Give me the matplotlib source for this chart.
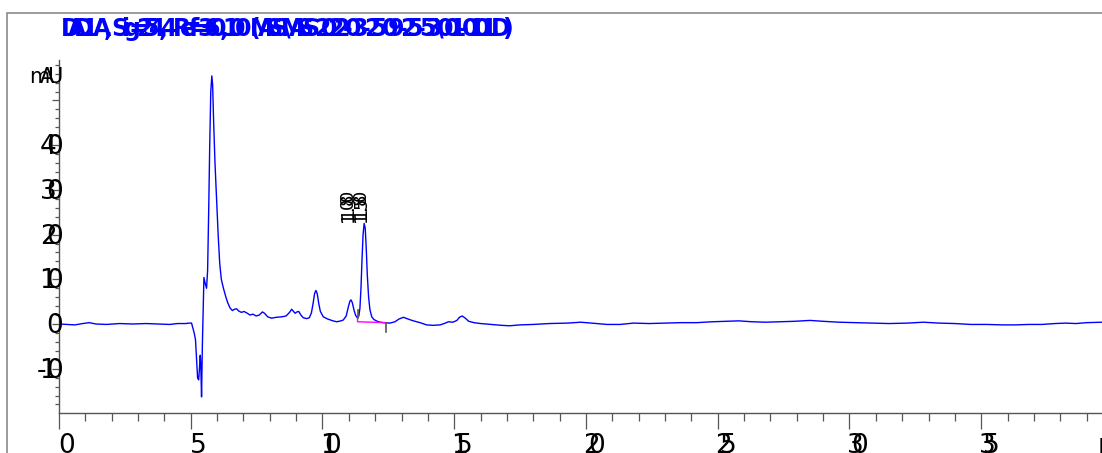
import matplotlib
matplotlib.use("Agg")
import matplotlib.pyplot as plt
from matplotlib.ticker import MultipleLocator, NullFormatter
from matplotlib.patches import Rectangle

# ---- chromatogram signal (time in min, absorbance in mAU) ----
time_min = [
    0.0, 0.3, 0.6, 0.9, 1.15, 1.4, 1.8, 2.3, 2.8, 3.3, 3.8, 4.2, 4.5, 4.8, 4.95,
    5.03, 5.13, 5.18, 5.26, 5.30, 5.33, 5.36, 5.38, 5.41, 5.44, 5.48, 5.50, 5.55,
    5.60, 5.64, 5.68, 5.72, 5.76, 5.80, 5.83, 5.87, 5.92, 5.98, 6.04, 6.10, 6.16,
    6.24, 6.32, 6.40, 6.49, 6.58, 6.66, 6.74, 6.82, 6.92, 7.02, 7.12, 7.25, 7.36,
    7.48, 7.60, 7.72, 7.80, 7.92, 8.07, 8.25, 8.45, 8.62, 8.75, 8.83, 8.90, 8.96,
    9.03, 9.10, 9.18, 9.27, 9.40, 9.50, 9.58, 9.64, 9.70, 9.75, 9.80, 9.86, 9.92,
    10.03, 10.2, 10.4, 10.54, 10.7, 10.79, 10.90, 10.98, 11.04, 11.08, 11.13,
    11.20, 11.26, 11.32, 11.38, 11.42, 11.46, 11.50, 11.54, 11.58, 11.62, 11.66,
    11.70, 11.75, 11.80, 11.87, 11.95, 12.12, 12.3, 12.56, 12.75, 12.9, 13.07,
    13.25, 13.45, 13.7, 13.95, 14.2, 14.46, 14.62, 14.78, 14.95, 15.1, 15.2, 15.3,
    15.42, 15.55, 15.75, 16.0, 16.4, 16.8, 17.1, 17.5, 18.0, 18.6, 19.3, 19.8,
    20.2, 20.8, 21.3, 21.8, 22.4, 23.0, 23.6, 24.2, 24.8, 25.3, 25.8, 26.3, 26.8,
    27.3, 27.9, 28.5, 29.0, 29.6, 30.2, 30.8, 31.5, 32.2, 32.8, 33.4, 34.0, 34.6,
    35.2, 35.8, 36.3, 36.8, 37.3, 37.8, 38.2, 38.6, 39.0, 39.6,
]
signal_mau = [
    0.0, -0.1, -0.2, 0.1, 0.3, 0.0, -0.1, 0.1, 0.0, 0.1, 0.0, -0.1, 0.1, 0.1, 0.2,
    0.2, -2.0, -3.5, -12.1, -12.5, -10.0, -7.0, -9.0, -16.3, -5.0, 6.0, 10.4, 9.0,
    8.0, 12.0, 25.0, 40.0, 52.0, 55.5, 53.5, 45.0, 36.0, 28.0, 20.0, 13.5, 10.0,
    8.0, 6.3, 4.8, 3.6, 3.0, 3.3, 3.4, 2.9, 2.6, 2.8, 2.5, 2.0, 2.2,
    1.8, 2.0, 2.7, 2.4, 1.6, 1.3, 1.5, 1.6, 1.8, 2.6, 3.3, 2.8, 2.4,
    2.7, 2.8, 2.0, 1.4, 1.2, 1.4, 2.5, 4.5, 6.8, 7.5, 6.8, 4.5, 2.8,
    1.6, 1.1, 0.7, 0.5, 0.7, 0.9, 1.8, 3.8, 5.1, 5.4, 4.8,
    3.0, 1.9, 1.4, 1.8, 3.5, 8.0, 14.5, 20.0, 22.5, 21.5, 17.0,
    11.0, 6.0, 3.2, 1.6, 1.0, 0.5, 0.3, 0.2, 0.5, 1.1, 1.5,
    1.1, 0.7, 0.3, -0.2, -0.3, -0.2, 0.1, 0.5, 0.4, 0.8, 1.5, 1.8,
    1.3, 0.6, 0.3, 0.1, -0.1, -0.3, -0.4, -0.2, -0.1, 0.1, 0.2, 0.4,
    0.2, -0.1, -0.1, 0.2, 0.1, 0.2, 0.3, 0.3, 0.5, 0.6, 0.7, 0.5, 0.4,
    0.5, 0.6, 0.8, 0.6, 0.4, 0.3, 0.2, 0.1, 0.2, 0.4, 0.2, 0.1, -0.1,
    -0.1, -0.2, -0.2, -0.1, -0.1, 0.1, 0.2, 0.1, 0.3, 0.4,
]

# integrated peak: start / end of the drawn baseline
peak_start = (11.33, 0.5)
peak_end = (12.41, 0.3)
# retention times annotated above the peaks
peak_rt = [11.08, 11.58]

x_tick_values = [0, 5, 10, 15, 20, 25, 30, 35]
y_tick_values = [-10, 0, 10, 20, 30, 40]

title_text = "DAD1 A, Sig=254,4 Ref=360,100 (MASS\\MASS 2022-03-25 09-25-53\\001-0101.D)"
y_unit = "mAU"
x_unit = "min"

# ---- figure ----
W, H = 1102, 453
fig = plt.figure(figsize=(W / 100, H / 100), dpi=100)
fig.patch.set_facecolor("white")

# outer frame
fig.patches.append(Rectangle((7 / W, -0.1), 1.2, 1 - 13 / H + 0.1,
                             transform=fig.transFigure, fill=False,
                             edgecolor="#8a8a8a", linewidth=1.2))

px_per_min = 26.35
px_per_mau = 4.47
ymin, ymax = -19.8, 59.0
ax_left, ax_bottom = 59, 412.5
ax_w = 40 * px_per_min
ax_h = (ymax - ymin) * px_per_mau
ax = fig.add_axes([ax_left / W, 1 - ax_bottom / H, ax_w / W, ax_h / H])
ax.set_xlim(0, 40)
ax.set_ylim(ymin, ymax)
ax.patch.set_alpha(0)

axis_col = "#555555"
for side in ("top", "right"):
    ax.spines[side].set_visible(False)
for side in ("left", "bottom"):
    ax.spines[side].set_color(axis_col)
    ax.spines[side].set_linewidth(1.0)

ax.xaxis.set_major_locator(MultipleLocator(5))
ax.xaxis.set_minor_locator(MultipleLocator(1))
ax.yaxis.set_major_locator(MultipleLocator(10))
ax.yaxis.set_minor_locator(MultipleLocator(2))
ax.xaxis.set_major_formatter(NullFormatter())
ax.yaxis.set_major_formatter(NullFormatter())
ax.tick_params(axis="x", which="major", direction="out", length=11.5, width=0.9, color=axis_col)
ax.tick_params(axis="x", which="minor", direction="out", length=5.8, width=0.9, color=axis_col)
ax.tick_params(axis="y", which="major", direction="out", length=5.0, width=0.9, color=axis_col)
ax.tick_params(axis="y", which="minor", direction="out", length=2.6, width=0.9, color=axis_col)

# signal trace
ax.plot(time_min, signal_mau, color="#0000FF", linewidth=1.0, solid_joinstyle="round")

# integration baseline and peak delimiters
ax.plot([peak_start[0], peak_start[0], peak_end[0]],
        [peak_start[1] + 0.9, peak_start[1], peak_end[1]],
        color="#FF00FF", linewidth=1.0)
ax.plot([peak_start[0], peak_start[0]], [peak_start[1] + 0.9, peak_start[1] + 2.6],
        color="#555555", linewidth=1.2)
ax.plot([peak_end[0], peak_end[0]], [peak_end[1], peak_end[1] - 2.0],
        color="#555555", linewidth=1.2)


def packed(s, xy, xycoords, pitch, rotation=0, anchor=(0, 0), **kw):
    """Draw a string one glyph at a time with a tight, fixed pitch."""
    n = len(s)
    for i, ch in enumerate(s):
        if ch == " ":
            continue
        off = (i - (n - 1) / 2) * pitch
        if rotation == 0:
            dx, dy = off + anchor[0], anchor[1]
        else:
            dx, dy = anchor[0], off + anchor[1]
        ax.annotate(ch, xy=xy, xycoords=xycoords, xytext=(dx, dy),
                    textcoords="offset pixels", ha="center", va="center",
                    rotation=rotation, annotation_clip=False, **kw)


tick_font = dict(family="DejaVu Sans", fontsize=19, color="black")

# x tick labels
for v in x_tick_values:
    packed(str(v), (v, 7 / H), ("data", "figure fraction"), pitch=4.5,
           anchor=(8, 0), **tick_font)

# y tick labels (right side of the label sits on the axis)
y_pitch = 7.0
for v in y_tick_values:
    n = len(str(v))
    packed(str(v), (0, v), ("figure fraction", "data"), pitch=y_pitch,
           anchor=(55 - (n - 1) * y_pitch / 2, -2), **tick_font)

# y unit
packed(y_unit, (47 / W, 1 - 77 / H), "figure fraction", pitch=8,
       family="DejaVu Sans", fontsize=15, color="black")

# x unit, running off the right edge
ax.annotate(x_unit, xy=(1098 / W, 1 - 446 / H), xycoords="figure fraction",
            ha="left", va="center", annotation_clip=False, **tick_font)

# retention time labels above the peaks
for rt in peak_rt:
    packed(f"{rt:.3f}", (rt, 26.5), "data", pitch=4.2, rotation=90,
           anchor=(-3, 0), family="DejaVu Sans", fontsize=13, color="black")

# signal description
n_title = len(title_text)
title_pitch = (507 - 71) / (n_title - 1)
packed(title_text, (289 / W, 1 - 29 / H), "figure fraction", pitch=title_pitch,
       family="DejaVu Sans", fontsize=17, fontweight="bold", color="#0000FF")

fig.savefig("out.png", dpi=100)
